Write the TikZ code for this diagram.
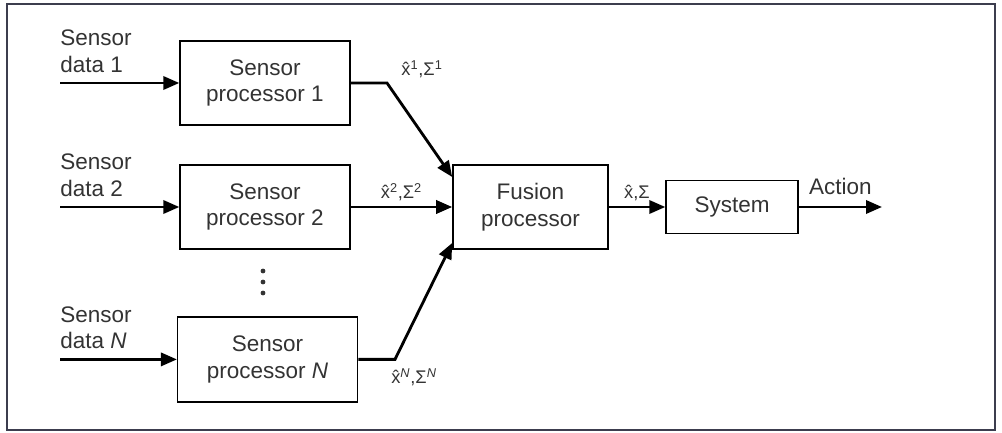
\documentclass[tikz,border=0pt]{standalone}
\usepackage{fontspec}
\setmainfont{Liberation Sans}
\usetikzlibrary{arrows.meta}
\definecolor{framegray}{HTML}{3C3D4E}
\definecolor{inkgray}{HTML}{333333}

\begin{document}
\begin{tikzpicture}[>={Triangle[length=4mm, width=3.3mm]}, font=\fontsize{16}{19}\selectfont, text=inkgray,
    block/.style={draw, line width=1pt, align=center, minimum width=4.25cm, minimum height=2.1cm},
    flow/.style={->, line width=2pt},
    est/.style={font=\fontsize{13}{15}\selectfont},
    inlabel/.style={align=left, anchor=south west, inner sep=0pt, yshift=0.25cm}]
    \useasboundingbox (0,0) rectangle (25.05,10.825);
    \draw[line width=1.4pt, framegray] (0.175,0.075) rectangle (24.875,10.725);

    % Sensor processors
    \node[block] (sp1) at (6.625, 8.75) {Sensor\\processor 1};
    \node[block] (sp2) at (6.625, 5.65) {Sensor\\processor 2};
    \node[block, minimum width=4.5cm, minimum height=2.125cm] (spN) at (6.69, 1.84) {Sensor\\processor \textit{N}};
    \foreach \y in {3.5, 3.775, 4.05}
        \fill[inkgray] (6.575, \y) circle (0.06);

    % Fusion and system
    \node[block, minimum width=3.875cm] (fus) at (13.26, 5.65) {Fusion\\processor};
    \node[block, minimum width=3.3cm, minimum height=1.325cm] (sys) at (18.3, 5.65) {System};

    % Sensor data
    \coordinate (in1) at (1.5, 8.75);
    \coordinate (in2) at (1.5, 5.65);
    \coordinate (inN) at (1.5, 1.84);
    \node[inlabel] (lab1) at (in1) {Sensor\\data 1};
    \node[inlabel] (lab2) at (in2) {Sensor\\data 2};
    \node[inlabel] (labN) at (inN) {Sensor\\data \textit{N}};
    \draw[flow] (in1) -- (sp1.west);
    \draw[flow] (in2) -- (sp2.west);
    \draw[flow] (inN) -- (spN.west);

    % Estimates
    \coordinate (b1) at (9.675, 8.75);
    \coordinate (bN) at (9.875, 1.84);
    \draw[flow] (sp1.east) -- (b1) -- ([yshift=0.75cm]fus.west);
    \draw[flow] (sp2.east) -- node[est, above] {\^{x}\textsuperscript{2},Σ\textsuperscript{2}} (fus.west);
    \draw[flow] (spN.east) -- (bN) -- ([yshift=-0.9cm]fus.west);
    \node[est] (e1) at (10.55, 9.1) {\^{x}\textsuperscript{1},Σ\textsuperscript{1}};
    \node[est] (eN) at (10.35, 1.4) {\^{x}\textsuperscript{\textit{N}},Σ\textsuperscript{\textit{N}}};

    % Output
    \coordinate (act) at (22.05, 5.65);
    \draw[flow] (fus.east) -- node[est, above] {\^{x},Σ} (sys.west);
    \draw[flow] (sys.east) -- node[above, yshift=0.15cm] {Action} (act);
\end{tikzpicture}
\end{document}
